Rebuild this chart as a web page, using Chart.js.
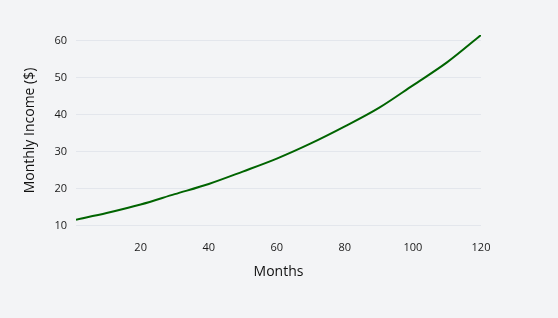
<!DOCTYPE html>
<html>
<head>
<meta charset="utf-8">
<script src="https://cdn.jsdelivr.net/npm/chart.js@4"></script>
<style>
html,body{margin:0;padding:0;background:#f3f4f6;}
#wrap{width:558px;height:318px;}
</style>
</head>
<body>
<div id="wrap"><canvas id="c" width="558" height="318"></canvas></div>
<script>
const months = [1, 10, 20, 30, 40, 50, 60, 70, 80, 90, 100, 110, 120];
const monthlyIncome = [11.6, 13.4, 15.7, 18.5, 21.25, 24.6, 28.1, 32.2, 36.8, 41.8, 47.9, 54.1, 61.5];
const xTicks = [20, 40, 60, 80, 100, 120];
const yTicks = [10, 20, 30, 40, 50, 60];
const xTitle = 'Months';
const yTitle = 'Monthly Income ($)';

const bgPlugin = {
  id: 'bg',
  beforeDraw(chart) {
    const ctx = chart.ctx;
    ctx.save();
    ctx.fillStyle = '#f3f4f6';
    ctx.fillRect(0, 0, chart.width, chart.height);
    ctx.restore();
  }
};

const tickFont = { family: 'Open Sans', size: 11 };
const titleFont = { family: 'Open Sans', size: 14 };

new Chart(document.getElementById('c'), {
  type: 'line',
  data: {
    datasets: [{
      data: months.map((m, i) => ({ x: m, y: monthlyIncome[i] })),
      borderColor: '#006400',
      borderWidth: 2,
      pointRadius: 0,
      fill: false,
      cubicInterpolationMode: 'monotone'
    }]
  },
  options: {
    responsive: false,
    animation: false,
    devicePixelRatio: 1,
    layout: { padding: { left: 0, right: 77, top: 35, bottom: 0 } },
    plugins: { legend: { display: false }, tooltip: { enabled: false } },
    scales: {
      x: {
        type: 'linear',
        min: 1,
        max: 120,
        afterBuildTicks: s => { s.ticks = xTicks.map(v => ({ value: v })); },
        afterFit: s => { s.height = 92; },
        grid: { display: false, drawTicks: false },
        border: { display: false },
        ticks: { font: tickFont, color: '#1a1a1a', padding: 15, maxRotation: 0 },
        title: { display: true, text: xTitle, font: titleFont, color: '#111', padding: { top: 0, bottom: 38 } }
      },
      y: {
        type: 'linear',
        min: 9.9,
        max: 61.5,
        afterBuildTicks: s => { s.ticks = yTicks.map(v => ({ value: v })); },
        afterFit: s => { s.width = 76; },
        grid: { color: '#e3e6ec', lineWidth: 1, drawTicks: false },
        border: { display: false },
        ticks: { font: tickFont, color: '#1a1a1a', padding: 9 },
        title: { display: true, text: yTitle, font: titleFont, color: '#111', padding: { top: 22, bottom: 0 } }
      }
    }
  },
  plugins: [bgPlugin]
});
</script>
</body>
</html>
